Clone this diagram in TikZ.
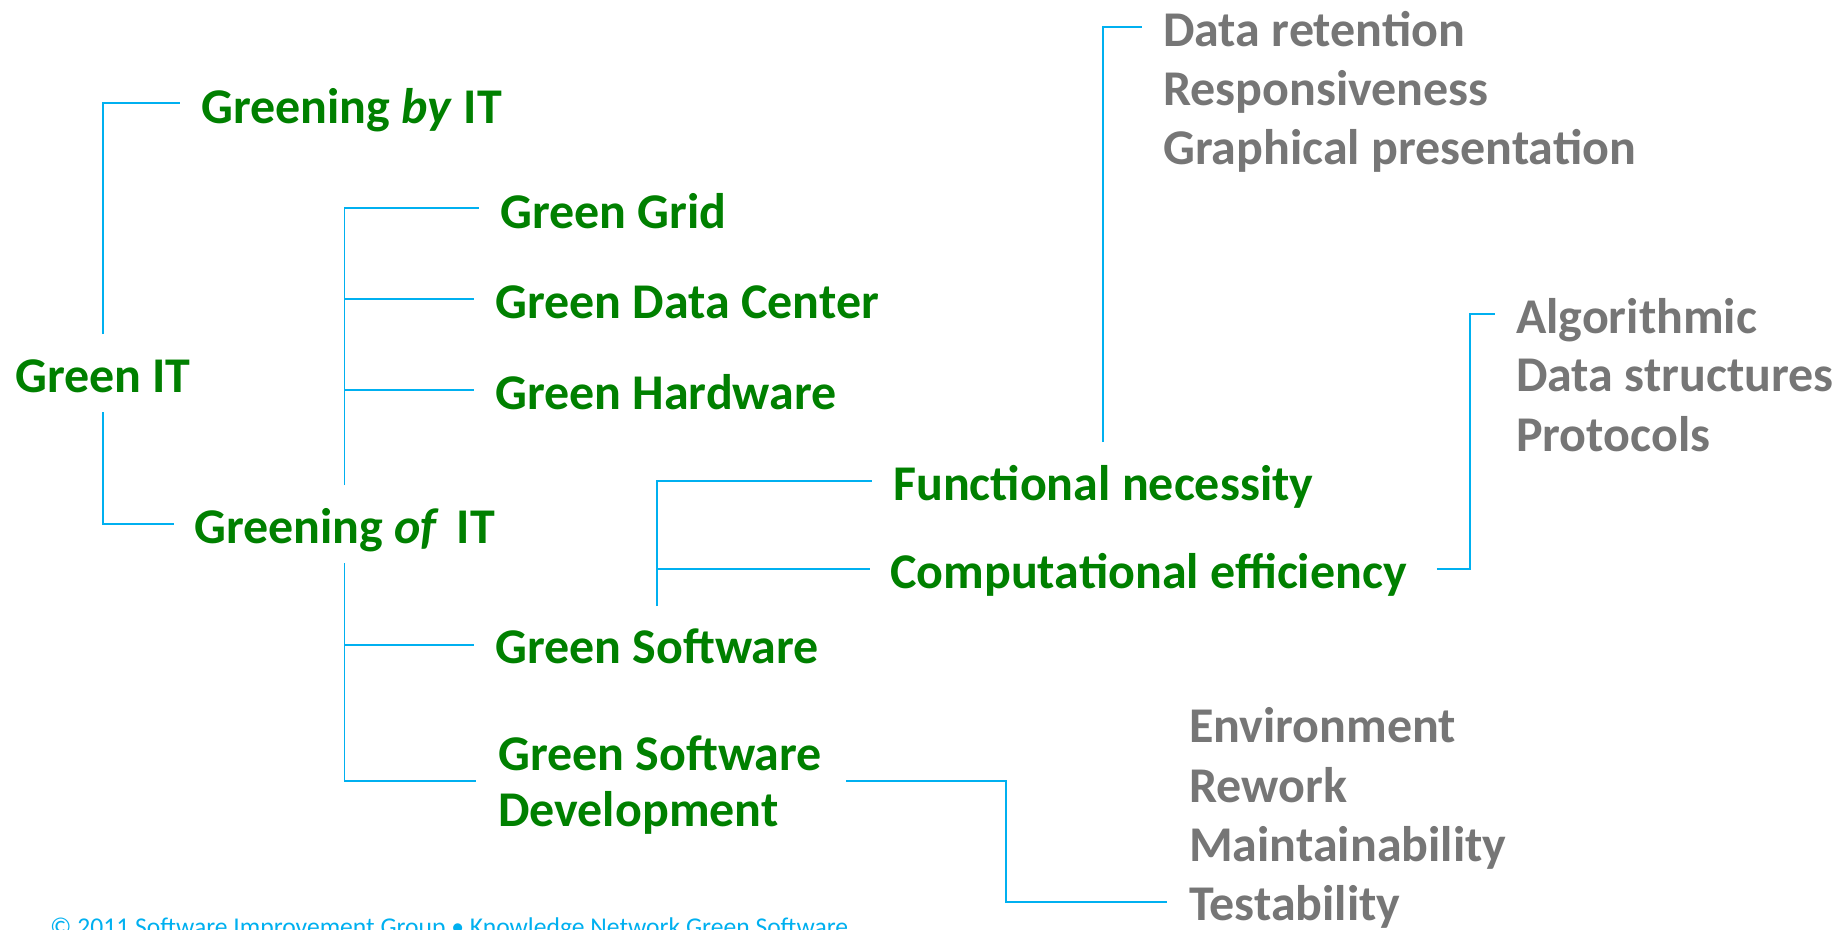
\documentclass[tikz,border=0pt]{standalone}
\usepackage{fontspec}
\setmainfont{Carlito}
\usetikzlibrary{calc}
\definecolor{grn}{RGB}{0,128,0}
\definecolor{gry}{RGB}{118,118,118}
\definecolor{cyn}{RGB}{0,176,240}
\tikzset{
  lab/.style={inner sep=0pt, anchor=base west, font=\bfseries\fontsize{50}{56}\selectfont},
  grnlab/.style={lab, text=grn},
  grylab/.style={lab, text=gry},
  conn/.style={draw=cyn, line width=1.9pt},
}
\begin{document}
\begin{tikzpicture}[x=1pt,y=-1pt]
\clip (0,0) rectangle (1847,929);
\fill[white] (0,0) rectangle (1847,929);
% green nodes
\node[grnlab] (git) at (15,392) {Green IT};
\node[grnlab] (gby) at (201,123) {Greening \textit{by} IT};
\node[grnlab] (gof) at (194,543) {Greening \textit{of}\hspace{0.12em} IT};
\node[grnlab] (grid) at (500,228) {Green Grid};
\node[grnlab] (gdc) at (495,318) {Green Data Center};
\node[grnlab] (gh) at (495,409) {Green Hardware};
\node[grnlab] (gs) at (495,663) {Green Software};
\node[grnlab, anchor=west, align=left] (gsd) at (498,785) {Green Software\\Development};
\node[grnlab] (fn) at (893,500) {Functional necessity};
\node[grnlab] (ce) at (890,588) {Computational efficiency};
% gray nodes
\node[grylab] (dr) at (1163,46) {Data retention};
\node[grylab] (resp) at (1163,105) {Responsiveness};
\node[grylab] (graph) at (1163,164) {Graphical presentation};
\node[grylab] (alg) at (1516,333) {Algorithmic};
\node[grylab] (ds) at (1516,391) {Data structures};
\node[grylab] (prot) at (1516,451) {Protocols};
\node[grylab] (env) at (1189,742) {Environment};
\node[grylab] (rew) at (1189,802) {Rework};
\node[grylab] (maint) at (1189,861) {Maintainability};
\node[grylab] (test) at (1189,920) {Testability};
% footer
\node[inner sep=0pt, anchor=base west, text=cyn, font=\fontsize{25.6}{30}\selectfont] (foot) at (50,935)
  {© 2011 Software Improvement Group • Knowledge Network Green Software};
% connectors
\coordinate (gbyL) at ($(gby.base west)+(-21,-20)$);
\coordinate (gofL) at ($(gof.base west)+(-20,-19)$);
\draw[conn] ($(git.base)+(0,-58)$) |- (gbyL);
\draw[conn] ($(git.base)+(0,20)$) |- (gofL);
\coordinate (gridL) at ($(grid.base west)+(-21,-20)$);
\coordinate (gdcL) at ($(gdc.base west)+(-21,-19)$);
\coordinate (ghL) at ($(gh.base west)+(-21,-19)$);
\coordinate (gsL) at ($(gs.base west)+(-21,-18)$);
\coordinate (gsdL) at ($(gsd.west)+(-22,-4)$);
\draw[conn] ($(gof.base)+(0,-58)$) |- (gridL);
\draw[conn] (gdcL -| gof.base) -- (gdcL);
\draw[conn] (ghL -| gof.base) -- (ghL);
\draw[conn] ($(gof.base)+(0,20)$) |- (gsdL);
\draw[conn] (gsL -| gof.base) -- (gsL);
\coordinate (fnL) at ($(fn.base west)+(-21,-19)$);
\coordinate (ceL) at ($(ce.base west)+(-20,-19)$);
\draw[conn] ($(gs.base)+(0,-57)$) |- (fnL);
\draw[conn] (ceL -| gs.base) -- (ceL);
\draw[conn] ($(fn.base)+(0,-58)$) |- ($(dr.base west)+(-21,-19)$);
\draw[conn] ($(ce.base east)+(30,-19)$) -| ($(alg.base west)+(-46,-19)$) -- ($(alg.base west)+(-21,-19)$);
\draw[conn] ($(gsd.east)+(24,-4)$) -| ($(test.base west)+(-183,-18)$) -- ($(test.base west)+(-22,-18)$);
\end{tikzpicture}
\end{document}
